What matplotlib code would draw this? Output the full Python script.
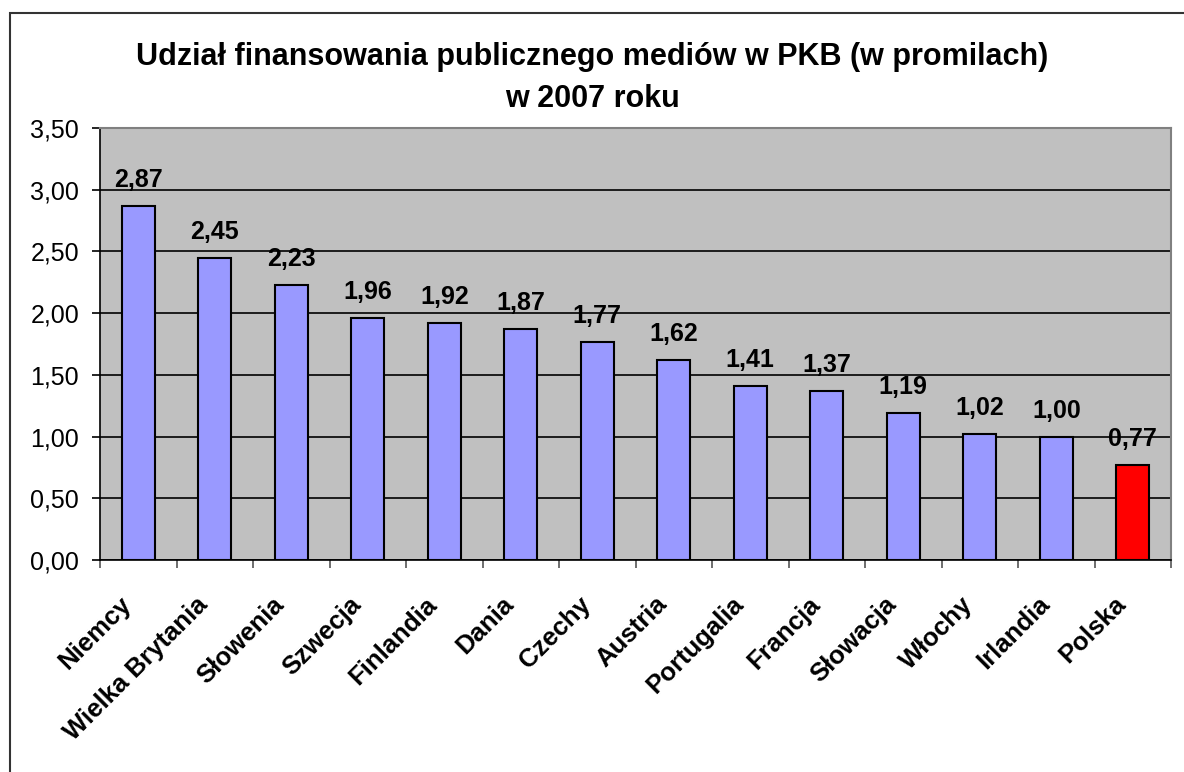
import numpy as np
import matplotlib.pyplot as plt
import matplotlib.transforms as mtransforms
from matplotlib.patches import Rectangle
from matplotlib.ticker import FixedLocator

plt.rcParams['font.family'] = ['Liberation Sans', 'DejaVu Sans']

# data
countries = ['Niemcy', 'Wielka Brytania', 'Słowenia', 'Szwecja', 'Finlandia', 'Dania',
             'Czechy', 'Austria', 'Portugalia', 'Francja', 'Słowacja', 'Włochy',
             'Irlandia', 'Polska']
values = [2.87, 2.45, 2.23, 1.96, 1.92, 1.87, 1.77, 1.62, 1.41, 1.37, 1.19, 1.02, 1.00, 0.77]
y_ticks = [0.0, 0.5, 1.0, 1.5, 2.0, 2.5, 3.0, 3.5]
title = 'Udział finansowania publicznego mediów w PKB (w promilach)\nw 2007 roku'

W, H = 1184, 772
fig = plt.figure(figsize=(W / 100, H / 100), dpi=100)

# chart frame (runs off the right and bottom of the image)
fig.patches.append(Rectangle((10 / W, -0.1), 1.2, 1 - 13 / H + 0.1, transform=fig.transFigure,
                             fill=False, edgecolor='#333333', linewidth=1.5, zorder=0))

ax = fig.add_axes([100 / W, 1 - 560 / H, 1071 / W, 432 / H])
ax.set_facecolor('#C0C0C0')

x = np.arange(len(countries))
colors = ['#9999FF'] * (len(countries) - 1) + ['#FF0000']
bars = ax.bar(x, values, width=0.43, color=colors, edgecolor='black', linewidth=1.5, zorder=3)

for xi, v in zip(x, values):
    ax.annotate(f'{v:.2f}'.replace('.', ','), (xi, v), xytext=(0, 10), textcoords='offset points',
                ha='center', va='bottom', fontsize=18, fontweight='bold')

ax.set_xlim(-0.5, len(countries) - 0.5)
ax.set_ylim(0, 3.5)
ax.set_yticks(y_ticks)
ax.set_yticklabels([f'{t:.2f}'.replace('.', ',') for t in y_ticks], fontsize=18)
ax.yaxis.grid(True, color='black', linewidth=1.2, zorder=1)
ax.set_axisbelow(True)

ax.set_xticks(x)
ax.set_xticklabels(countries, rotation=45, ha='right', rotation_mode='anchor',
                   fontsize=18.5, fontweight='bold')
ax.tick_params(axis='x', which='major', length=0, pad=26)
shift = mtransforms.ScaledTranslation(-19 / 100, 4 / 100, fig.dpi_scale_trans)
for lab in ax.get_xticklabels():
    lab.set_transform(lab.get_transform() + shift)
ax.xaxis.set_minor_locator(FixedLocator(np.arange(-0.5, len(countries), 1.0)))
ax.tick_params(axis='x', which='minor', length=6, width=1.2, color='#555555')
ax.tick_params(axis='y', length=6, width=1.2, direction='out', pad=9)

for side in ['top', 'right']:
    ax.spines[side].set_color('#808080')
    ax.spines[side].set_linewidth(1.5)
for side in ['left', 'bottom']:
    ax.spines[side].set_color('black')
    ax.spines[side].set_linewidth(1.2)

fig.text(0.5, 1 - 78 / H, title, ha='center', va='center', fontsize=22, fontweight='bold',
         linespacing=1.55)

fig.savefig('out.png', dpi=100)
